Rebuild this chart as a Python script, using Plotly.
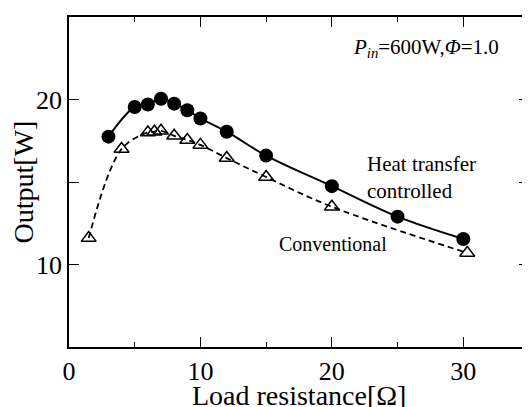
import plotly.graph_objects as go

# 負荷抵抗 [Ω] と出力 [W]
x_heat = [3, 5, 6, 7, 8, 9, 10, 12, 15, 20, 25, 30]
y_heat = [17.75, 19.55, 19.7, 20.05, 19.75, 19.35, 18.85, 18.05, 16.6, 14.75, 12.9, 11.55]

x_conv = [1.5, 4, 6, 6.5, 7, 8, 9, 10, 12, 15, 20, 30.3]
y_conv = [11.6, 17.0, 18.0, 18.05, 18.1, 17.8, 17.55, 17.25, 16.45, 15.3, 13.5, 10.7]

x_tickvals = [0, 10, 20, 30]
y_tickvals = [10, 20]

FONT = "Liberation Serif, Times New Roman, serif"

fig = go.Figure()

fig.add_trace(go.Scatter(
    x=x_conv, y=y_conv,
    mode="lines+markers",
    line=dict(color="black", width=1.8, dash="6px,4px", shape="spline"),
    marker=dict(symbol="triangle-up-open", size=13, color="black", line=dict(width=1.5)),
    showlegend=False,
))

fig.add_trace(go.Scatter(
    x=x_heat, y=y_heat,
    mode="lines+markers",
    line=dict(color="black", width=2, shape="spline"),
    marker=dict(symbol="circle", size=14, color="black"),
    showlegend=False,
))

fig.add_annotation(
    x=32.9, y=23.15,
    text="<i>P<sub>in</sub></i>=600W,<i>Φ</i>=1.0",
    showarrow=False, xanchor="right", yanchor="middle",
    font=dict(family=FONT, size=21, color="black"),
)
fig.add_annotation(
    x=22.5, y=15.25,
    text="Heat transfer<br>controlled",
    showarrow=False, xanchor="left", yanchor="middle", align="left",
    font=dict(family=FONT, size=21, color="black"),
)
fig.add_annotation(
    x=15.85, y=11.27,
    text="Conventional",
    showarrow=False, xanchor="left", yanchor="middle",
    font=dict(family=FONT, size=20, color="black"),
)
# x軸タイトル（位置を細かく合わせるため注釈で配置）
fig.add_annotation(
    x=0.5, y=-0.146, xref="paper", yref="paper",
    text="Load resistance[Ω]",
    showarrow=False, xanchor="center", yanchor="middle",
    font=dict(family=FONT, size=28, color="black"),
)

# ページ本体の余白 8px を差し引いたマージン
fig.update_layout(
    width=530, height=407,
    margin=dict(l=61, r=7, t=8, b=68),
    paper_bgcolor="white", plot_bgcolor="white",
    font=dict(family=FONT, size=26, color="black"),
    xaxis=dict(
        range=[0, 35], tickvals=x_tickvals,
        ticks="inside", ticklen=10, tickwidth=1.2, tickcolor="black",
        minor=dict(dtick=5, tick0=0, ticks="inside", ticklen=5, tickwidth=1.2, tickcolor="black"),
        showline=True, linecolor="black", linewidth=1.5, mirror="ticks",
        showgrid=False, zeroline=False,
        tickfont=dict(size=26),
    ),
    yaxis=dict(
        range=[5, 25], tickvals=y_tickvals,
        ticks="inside", ticklen=10, tickwidth=1.2, tickcolor="black",
        minor=dict(dtick=5, tick0=0, ticks="inside", ticklen=10, tickwidth=1.2, tickcolor="black"),
        showline=True, linecolor="black", linewidth=1.5, mirror="ticks",
        showgrid=False, zeroline=False,
        title=dict(text="Output[W]", standoff=0, font=dict(size=28)),
        tickfont=dict(size=26),
    ),
)

fig.write_html("out.html")
